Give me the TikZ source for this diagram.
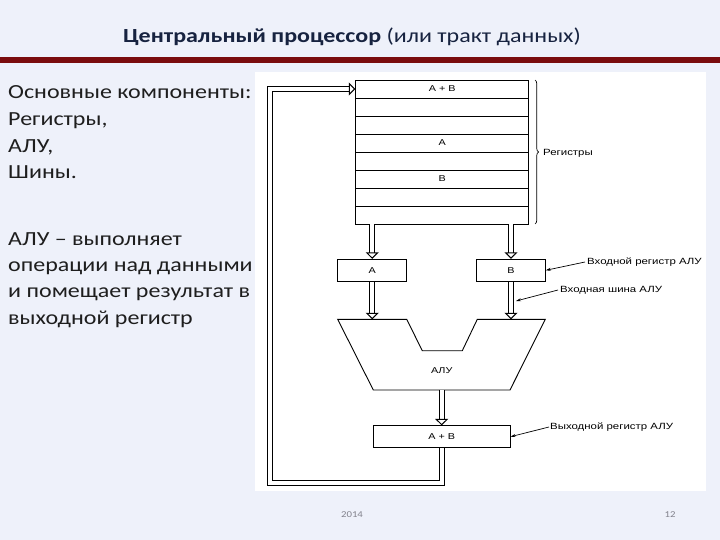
\documentclass[tikz,border=0pt]{standalone}
\usepackage{fontspec}
\setmainfont[FakeStretch=1.2]{Carlito}
\newfontfamily\figfont[FakeStretch=1.27]{Liberation Sans}
\usetikzlibrary{arrows.meta,decorations.pathreplacing}

\definecolor{slidebg}{RGB}{238,241,250}
\definecolor{titleblue}{RGB}{23,35,64}
\definecolor{rulered}{RGB}{122,12,14}
\definecolor{bodytext}{RGB}{30,30,30}
\definecolor{footgray}{RGB}{130,130,140}

\tikzset{
  reg/.style={draw, line width=0.9pt, minimum width=173pt, minimum height=18pt,
    inner sep=0pt, font=\figfont\fontsize{8.5}{9}\selectfont},
  alubox/.style={draw, line width=0.9pt, minimum height=22pt, inner sep=0pt,
    font=\figfont\fontsize{8.5}{9}\selectfont},
  bus/.style={double, double distance=4.2pt, line width=1pt,
    -{Triangle[open, length=6.5pt, width=13pt]}},
  note/.style={line width=0.7pt, -{Stealth[length=5pt, width=3pt]}},
  lbl/.style={anchor=west, inner sep=0pt, font=\figfont\fontsize{9}{10}\selectfont},
  body/.style={anchor=base west, inner sep=0pt, text=bodytext,
    font=\fontsize{20}{24}\selectfont}
}

\begin{document}
\begin{tikzpicture}[x=1pt, y=-1pt]
  \useasboundingbox (0,0) rectangle (720,540);
  \fill[slidebg] (0,0) rectangle (720,540);
  \fill[rulered] (0,57.5) rectangle (720,63);
  \fill[white] (255,72) rectangle (706,491);

  \node[text=titleblue, font=\fontsize{20}{24}\selectfont] (title) at (352,37)
    {\textbf{Центральный процессор} (или тракт данных)};

  % left column
  \node[body] (b1) at (8,99) {Основные компоненты:};
  \node[body] (b2) at (8,126) {Регистры,};
  \node[body] (b3) at (8,152.3) {АЛУ,};
  \node[body] (b4) at (8,178.7) {Шины.};
  \node[body] (b5) at (8,245.7) {АЛУ – выполняет};
  \node[body] (b6) at (8,271.7) {операции над данными};
  \node[body] (b7) at (8,297.7) {и помещает результат в};
  \node[body] (b8) at (8,324) {выходной регистр};

  % register file
  \node[reg] (r1) at (442.2,89) {A + B};
  \node[reg] (r2) at (442.2,107) {};
  \node[reg] (r3) at (442.2,125) {};
  \node[reg] (r4) at (442.2,143) {A};
  \node[reg] (r5) at (442.2,161) {};
  \node[reg] (r6) at (442.2,179) {B};
  \node[reg] (r7) at (442.2,197) {};
  \node[reg] (r8) at (442.2,215) {};

  \draw[decorate, decoration={brace, amplitude=3.5pt}, line width=0.7pt]
    (535,80) -- (535,224);
  \node[lbl] (regs) at (543,153) {Регистры};

  % ALU input registers
  \node[alubox, minimum width=69pt] (boxA) at (372.2,270.3) {A};
  \node[alubox, minimum width=68.6pt] (boxB) at (511,270.3) {B};

  % ALU
  \coordinate (aluA) at (337.7,319.3);
  \coordinate (aluB) at (406.7,319.3);
  \coordinate (aluC) at (422.3,350.7);
  \coordinate (aluD) at (462.3,350.7);
  \coordinate (aluE) at (477.3,319.3);
  \coordinate (aluF) at (545.3,319.3);
  \coordinate (aluG) at (510,390);
  \coordinate (aluH) at (373.3,390);
  \draw[line width=0.9pt] (aluA) -- (aluB) -- (aluC) -- (aluD) -- (aluE)
    -- (aluF) -- (aluG) -- (aluH) -- cycle;
  \node[font=\figfont\fontsize{8.5}{9}\selectfont] (alu) at (441.7,371) {АЛУ};

  % output register
  \node[alubox, minimum width=136.7pt, minimum height=21.7pt] (out) at (441.7,436.7) {A + B};

  % buses
  \draw[bus] (r8.south -| boxA) -- (boxA);
  \draw[bus] (r8.south -| boxB) -- (boxB);
  \draw[bus] (boxA) -- (boxA |- aluA);
  \draw[bus] (boxB) -- (boxB |- aluF);
  \draw[bus] (out |- aluH) -- (out);

  \coordinate (fbcorner) at (269.7,483);
  \draw[bus] (out) -- (out |- fbcorner) -- (fbcorner) |- (r1.west);

  % annotations
  \node[lbl] (inreg) at (587,262) {Входной регистр АЛУ};
  \node[lbl] (inbus) at (560,290) {Входная шина АЛУ};
  \node[lbl] (outreg) at (550,427) {Выходной регистр АЛУ};
  \coordinate (busB) at (516,301);
  \draw[note] ([xshift=-2pt]inreg.west) -- (boxB.east);
  \draw[note] ([xshift=-2pt]inbus.west) -- (busB);
  \draw[note] ([xshift=-1pt]outreg.west) -- (out.east);

  % footer
  \node[text=footgray, font=\fontsize{9}{11}\selectfont] (year) at (352,515) {2014};
  \node[text=footgray, font=\fontsize{9}{11}\selectfont] (page) at (670,515) {12};
\end{tikzpicture}
\end{document}
